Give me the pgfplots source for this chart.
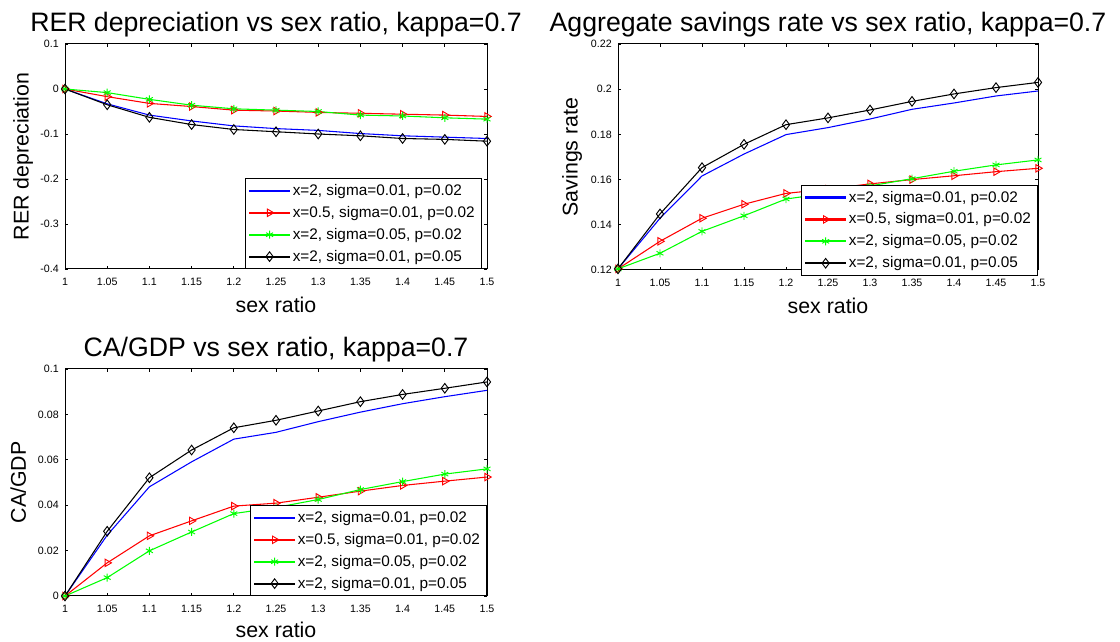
\documentclass[border=0pt]{standalone}
\usepackage{fontspec}
\setmainfont{Liberation Sans}
\usepackage{pgfplots}
\usepackage{pgfplotstable}
\pgfplotsset{compat=1.18}

\pgfplotstableread{
x blue red green black
1.00 0 0 0 0
1.05 -0.033 -0.017 -0.008 -0.035
1.10 -0.058 -0.032 -0.023 -0.063
1.15 -0.071 -0.039 -0.036 -0.079
1.20 -0.082 -0.047 -0.044 -0.090
1.25 -0.088 -0.049 -0.047 -0.095
1.30 -0.092 -0.052 -0.050 -0.100
1.35 -0.099 -0.054 -0.058 -0.104
1.40 -0.104 -0.056 -0.060 -0.110
1.45 -0.107 -0.058 -0.064 -0.112
1.50 -0.110 -0.061 -0.067 -0.116
}\rer

\pgfplotstableread{
x blue red green black
1.00 0.1205 0.1205 0.1205 0.1205
1.05 0.1429 0.1327 0.1274 0.1448
1.10 0.1616 0.1429 0.1371 0.1653
1.15 0.1713 0.1491 0.1440 0.1756
1.20 0.1799 0.1539 0.1514 0.1843
1.25 0.1830 0.1558 0.1540 0.1873
1.30 0.1868 0.1581 0.1572 0.1908
1.35 0.1911 0.1600 0.1604 0.1946
1.40 0.1939 0.1617 0.1637 0.1979
1.45 0.1970 0.1635 0.1665 0.2007
1.50 0.1992 0.1650 0.1687 0.2030
}\sav

\pgfplotstableread{
x blue red green black
1.00 0 0 0 0
1.05 0.0268 0.0146 0.0081 0.0285
1.10 0.0481 0.0265 0.0199 0.0521
1.15 0.0591 0.0331 0.0282 0.0643
1.20 0.0691 0.0396 0.0363 0.0741
1.25 0.0721 0.0409 0.0390 0.0774
1.30 0.0768 0.0435 0.0425 0.0815
1.35 0.0810 0.0462 0.0469 0.0856
1.40 0.0847 0.0487 0.0504 0.0888
1.45 0.0878 0.0506 0.0537 0.0915
1.50 0.0906 0.0524 0.0560 0.0943
}\cagdp

\definecolor{mblue}{rgb}{0,0,1}
\definecolor{mred}{rgb}{1,0,0}
\definecolor{mgreen}{rgb}{0,1,0}

\pgfplotsset{
  mat/.style={
    scale only axis,
    anchor=south west,
    xmin=1, xmax=1.5,
    xtick={1,1.05,1.1,1.15,1.2,1.25,1.3,1.35,1.4,1.45,1.5},
    xticklabels={1,1.05,1.1,1.15,1.2,1.25,1.3,1.35,1.4,1.45,1.5},
    tick align=inside,
    major tick length=2.6pt,
    tick style={black, line width=0.5pt},
    axis line style={black, line width=0.75pt},
    tick label style={font=\fontsize{8}{9.6}\selectfont},
    xticklabel style={yshift=-3pt},
    yticklabel style={xshift=-1.2pt},
    label style={font=\fontsize{16}{19}\selectfont},
    xlabel={sex ratio},
    xlabel style={at={(axis description cs:0.5,-0.16)}, anchor=center},
    title style={font=\fontsize{20}{24}\selectfont, at={(0.5,1)}, anchor=base, yshift=3.5pt},
    clip=false,
    legend cell align=left,
    legend style={draw=black, line width=0.75pt, fill=white,
      font=\fontsize{11.5}{13.8}\selectfont,
      row sep=2.6pt, inner xsep=3pt, inner ysep=2pt},
    every axis plot/.append style={line width=0.8pt},
  },
  sb/.style={draw=mblue, no marks,
    legend image code/.code={\fill[mblue] (0pt,-0.42pt) rectangle (30pt,0.42pt);}},
  sr/.style={draw=mred, mark=triangle, mark size=3.2pt, mark options={draw=mred, rotate=-90, fill=none, solid, line width=0.7pt},
    legend image code/.code={\fill[mred] (0pt,-0.42pt) rectangle (30pt,0.42pt);
      \draw[##1] plot[only marks] coordinates {(15pt,0pt)};}},
  sg/.style={draw=mgreen, mark=asterisk, mark size=3pt, mark options={draw=mgreen, solid, line width=0.7pt},
    legend image code/.code={\fill[mgreen] (0pt,-0.42pt) rectangle (30pt,0.42pt);
      \draw[##1] plot[only marks] coordinates {(15pt,0pt)};}},
  sk/.style={draw=black, mark=diamond, mark size=3.6pt, mark options={draw=black, fill=none, solid, line width=0.7pt},
    legend image code/.code={\fill[black] (0pt,-0.42pt) rectangle (30pt,0.42pt);
      \draw[##1] plot[only marks] coordinates {(15pt,0pt)};}},
}

\begin{document}
\begin{tikzpicture}
\useasboundingbox (0,0) rectangle (840pt,481.5pt);

\begin{axis}[mat,
  at={(48.75pt,279.75pt)}, width=316.5pt, height=168.75pt,
  ymin=-0.4, ymax=0.1,
  ytick={-0.4,-0.3,-0.2,-0.1,0,0.1},
  yticklabels={-0.4,-0.3,-0.2,-0.1,0,0.1},
  ylabel={RER depreciation},
  ylabel style={at={(axis description cs:-0.0995,0.5)}, anchor=center},
  title={RER depreciation vs sex ratio, kappa=0.7},
  legend style={at={(0.988,0)}, anchor=south east},
]
\addplot[sb] table[x=x,y=blue] {\rer};
\addlegendentry{x=2, sigma=0.01, p=0.02}
\addplot[sr] table[x=x,y=red] {\rer};
\addlegendentry{x=0.5, sigma=0.01, p=0.02}
\addplot[sg] table[x=x,y=green] {\rer};
\addlegendentry{x=2, sigma=0.05, p=0.02}
\addplot[sk] table[x=x,y=black] {\rer};
\addlegendentry{x=2, sigma=0.01, p=0.05}
\end{axis}

\begin{axis}[mat,
  at={(463.5pt,279pt)}, width=315pt, height=169.5pt,
  ymin=0.12, ymax=0.22,
  ytick={0.12,0.14,0.16,0.18,0.2,0.22},
  yticklabels={0.12,0.14,0.16,0.18,0.2,0.22},
  ylabel={Savings rate},
  ylabel style={at={(axis description cs:-0.109,0.5)}, anchor=center},
  title={Aggregate savings rate vs sex ratio, kappa=0.7},
  legend style={at={(1,-0.025)}, anchor=south east},
]
\addplot[sb] table[x=x,y=blue] {\sav};
\addlegendentry{x=2, sigma=0.01, p=0.02}
\addplot[sr] table[x=x,y=red] {\sav};
\addlegendentry{x=0.5, sigma=0.01, p=0.02}
\addplot[sg] table[x=x,y=green] {\sav};
\addlegendentry{x=2, sigma=0.05, p=0.02}
\addplot[sk] table[x=x,y=black] {\sav};
\addlegendentry{x=2, sigma=0.01, p=0.05}
\end{axis}

\begin{axis}[mat,
  at={(48.75pt,34.5pt)}, width=316.5pt, height=170.25pt,
  ymin=0, ymax=0.1,
  ytick={0,0.02,0.04,0.06,0.08,0.1},
  yticklabels={0,0.02,0.04,0.06,0.08,0.1},
  ylabel={CA/GDP},
  ylabel style={at={(axis description cs:-0.111,0.5)}, anchor=center},
  xlabel style={at={(axis description cs:0.5,-0.148)}, anchor=center},
  title={CA/GDP vs sex ratio, kappa=0.7},
  legend style={at={(1,0)}, anchor=south east},
]
\addplot[sb] table[x=x,y=blue] {\cagdp};
\addlegendentry{x=2, sigma=0.01, p=0.02}
\addplot[sr] table[x=x,y=red] {\cagdp};
\addlegendentry{x=0.5, sigma=0.01, p=0.02}
\addplot[sg] table[x=x,y=green] {\cagdp};
\addlegendentry{x=2, sigma=0.05, p=0.02}
\addplot[sk] table[x=x,y=black] {\cagdp};
\addlegendentry{x=2, sigma=0.01, p=0.05}
\end{axis}
\end{tikzpicture}
\end{document}
